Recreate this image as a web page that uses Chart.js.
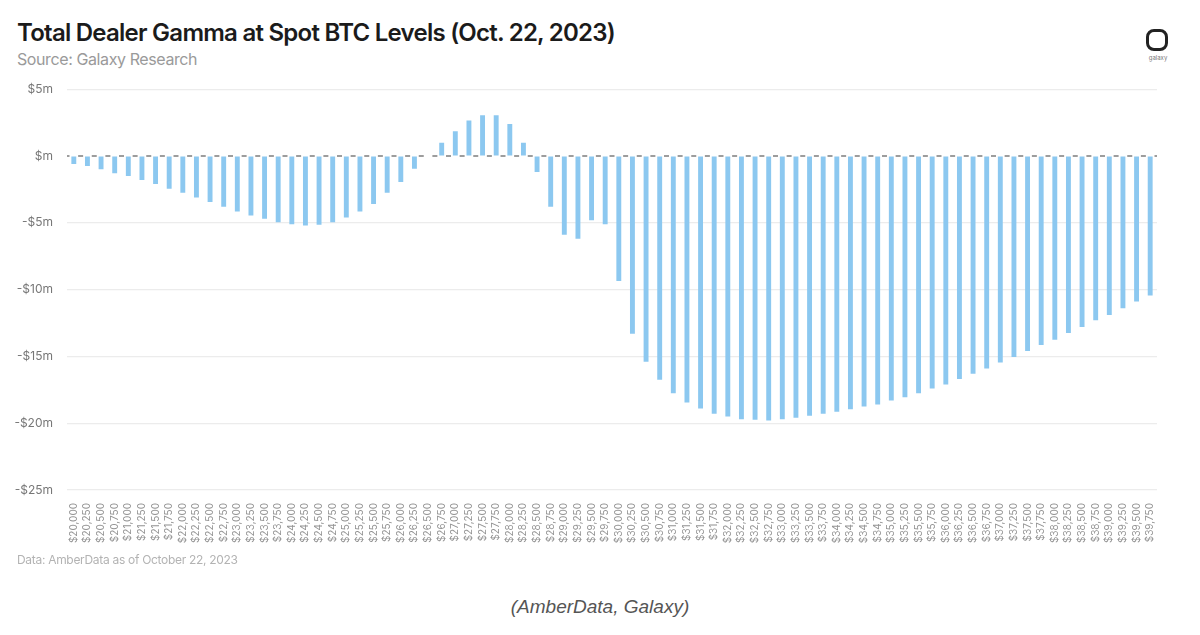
<!DOCTYPE html>
<html>
<head>
<meta charset="utf-8">
<script src="https://cdn.jsdelivr.net/npm/chart.js@4.4.0/dist/chart.umd.min.js"></script>
<style>
  html, body { margin: 0; padding: 0; background: #fff; }
  body { width: 1200px; height: 635px; position: relative; overflow: hidden; font-family: "Inter", sans-serif; }
  .title { position: absolute; left: 17px; top: 18px; font-size: 24px; font-weight: 600; color: #1b1b1b; letter-spacing: -0.75px; white-space: nowrap; }
  .subtitle { position: absolute; left: 17px; top: 49px; font-size: 16px; color: #9a9a9a; letter-spacing: -0.4px; white-space: nowrap; }
  .logo { position: absolute; left: 1146px; top: 29px; width: 16px; height: 16px; border: 3.5px solid #222; border-radius: 8px; }
  .logo-text { position: absolute; left: 1145px; top: 54px; width: 26px; text-align: center; font-size: 6px; color: #777; }
  .chart-wrap { position: absolute; left: 0; top: 68px; width: 1185px; height: 487px; }
  .note { position: absolute; left: 17px; top: 552px; font-size: 12px; color: #b3b3b3; letter-spacing: -0.3px; white-space: nowrap; }
  .caption { position: absolute; left: 0; width: 1200px; top: 596px; text-align: center; font-family: "Liberation Sans", Arial, sans-serif; font-style: italic; font-size: 19px; color: #555; }
</style>
</head>
<body>
<div class="title">Total Dealer Gamma at Spot BTC Levels (Oct. 22, 2023)</div>
<div class="subtitle">Source: Galaxy Research</div>
<div class="logo"></div>
<div class="logo-text">galaxy</div>
<div class="chart-wrap"><canvas id="gammaChart"></canvas></div>
<div class="note">Data: AmberData as of October 22, 2023</div>
<div class="caption">(AmberData, Galaxy)</div>

<script>
// Spot BTC price levels
const priceLevels = [
  '$20,000', '$20,250', '$20,500', '$20,750', '$21,000', '$21,250', '$21,500', '$21,750',
  '$22,000', '$22,250', '$22,500', '$22,750', '$23,000', '$23,250', '$23,500', '$23,750',
  '$24,000', '$24,250', '$24,500', '$24,750', '$25,000', '$25,250', '$25,500', '$25,750',
  '$26,000', '$26,250', '$26,500', '$26,750', '$27,000', '$27,250', '$27,500', '$27,750',
  '$28,000', '$28,250', '$28,500', '$28,750', '$29,000', '$29,250', '$29,500', '$29,750',
  '$30,000', '$30,250', '$30,500', '$30,750', '$31,000', '$31,250', '$31,500', '$31,750',
  '$32,000', '$32,250', '$32,500', '$32,750', '$33,000', '$33,250', '$33,500', '$33,750',
  '$34,000', '$34,250', '$34,500', '$34,750', '$35,000', '$35,250', '$35,500', '$35,750',
  '$36,000', '$36,250', '$36,500', '$36,750', '$37,000', '$37,250', '$37,500', '$37,750',
  '$38,000', '$38,250', '$38,500', '$38,750', '$39,000', '$39,250', '$39,500', '$39,750'
];

// Total dealer gamma ($m) at each level
const dealerGamma = [
  -0.6, -0.75, -1.0, -1.3, -1.5, -1.8, -2.1, -2.45,
  -2.75, -3.1, -3.45, -3.8, -4.15, -4.45, -4.7, -4.95,
  -5.1, -5.2, -5.15, -4.95, -4.6, -4.15, -3.6, -2.75,
  -1.95, -0.95, 0, 1.0, 1.85, 2.65, 3.05, 3.05,
  2.4, 1.0, -1.2, -3.8, -5.9, -6.2, -4.8, -5.1,
  -9.35, -13.3, -15.4, -16.75, -17.75, -18.45, -18.9, -19.3,
  -19.5, -19.7, -19.75, -19.8, -19.7, -19.6, -19.45, -19.3,
  -19.15, -18.95, -18.75, -18.6, -18.3, -18.05, -17.75, -17.4,
  -17.1, -16.7, -16.3, -15.9, -15.45, -15.05, -14.6, -14.15,
  -13.75, -13.25, -12.8, -12.3, -11.9, -11.4, -10.9, -10.45
];

// Y axis range ($m)
const yMin = -25;
const yMax = 5;
const yStep = 5;

// dashed zero line, one dash between each pair of bars
const zeroLine = {
  id: 'zeroLine',
  beforeDatasetsDraw(chart) {
    const { ctx, chartArea, scales } = chart;
    const y = scales.y.getPixelForValue(0);
    const step = scales.x.getPixelForValue(1) - scales.x.getPixelForValue(0);
    ctx.save();
    ctx.strokeStyle = '#7d7d7d';
    ctx.lineWidth = 1.6;
    ctx.setLineDash([5, step - 5]);
    ctx.lineDashOffset = 2.5;
    ctx.beginPath();
    ctx.moveTo(chartArea.left, y);
    ctx.lineTo(chartArea.right, y);
    ctx.stroke();
    ctx.restore();
  }
};

function renderGammaChart() {
  const ctx = document.getElementById('gammaChart');
  if (!ctx) return;

  new Chart(ctx, {
    type: 'bar',
    data: {
      labels: priceLevels,
      datasets: [{
        data: dealerGamma,
        backgroundColor: '#8cc8f0',
        borderWidth: 0,
        categoryPercentage: 1,
        barPercentage: 0.36
      }]
    },
    options: {
      responsive: true,
      maintainAspectRatio: false,
      animation: false,
      layout: {
        padding: { top: 15, right: 28, bottom: 0, left: 0 }
      },
      plugins: {
        legend: { display: false },
        tooltip: { enabled: false }
      },
      scales: {
        x: {
          grid: { display: false },
          border: { display: false },
          ticks: {
            autoSkip: false,
            minRotation: 90,
            maxRotation: 90,
            padding: 5,
            color: '#939393',
            font: { family: 'Inter', size: 10 }
          },
          afterFit(scale) { scale.height = 65; }
        },
        y: {
          min: yMin,
          max: yMax,
          grid: {
            drawTicks: false,
            color: (c) => (c.tick && c.tick.value === 0 ? 'rgba(0,0,0,0)' : '#ececec'),
            lineWidth: 1.2
          },
          border: { display: false },
          ticks: {
            stepSize: yStep,
            padding: 14,
            color: '#777',
            font: { family: 'Inter', size: 12 },
            callback: (v) => (v === 0 ? '$m' : (v < 0 ? '-' : '') + '$' + Math.abs(v) + 'm')
          },
          afterFit(scale) { scale.width = 67; }
        }
      }
    },
    plugins: [zeroLine]
  });
}

renderGammaChart();
</script>
</body>
</html>
